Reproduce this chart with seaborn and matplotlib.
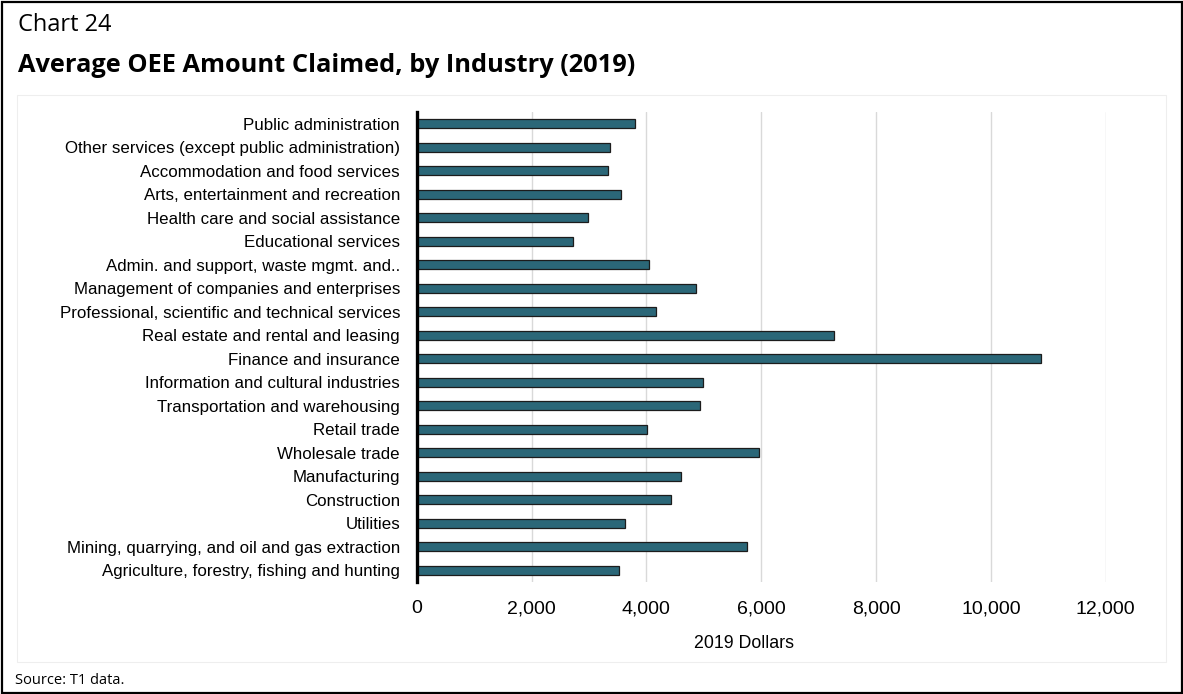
import matplotlib
matplotlib.use("Agg")
import matplotlib.pyplot as plt
from matplotlib.patches import Rectangle
from matplotlib.ticker import FuncFormatter
import seaborn as sns
import pandas as pd

industries = [
    "Public administration",
    "Other services (except public administration)",
    "Accommodation and food services",
    "Arts, entertainment and recreation",
    "Health care and social assistance",
    "Educational services",
    "Admin. and support, waste mgmt. and..",
    "Management of companies and enterprises",
    "Professional, scientific and technical services",
    "Real estate and rental and leasing",
    "Finance and insurance",
    "Information and cultural industries",
    "Transportation and warehousing",
    "Retail trade",
    "Wholesale trade",
    "Manufacturing",
    "Construction",
    "Utilities",
    "Mining, quarrying, and oil and gas extraction",
    "Agriculture, forestry, fishing and hunting",
]
avg_claimed = [
    3810, 3360, 3340, 3560, 2990, 2730, 4040, 4860, 4160, 7270,
    10870, 4990, 4930, 4010, 5970, 4610, 4430, 3630, 5760, 3520,
]
x_ticks = [0, 2000, 4000, 6000, 8000, 10000, 12000]

df = pd.DataFrame({"industry": industries, "amount": avg_claimed})

sns.set_theme(style="white")
plt.rcParams["font.family"] = ["Liberation Sans", "DejaVu Sans"]

W, H = 1183, 694
fig = plt.figure(figsize=(W / 100, H / 100), dpi=100)
ax = fig.add_axes([416.7 / W, 1 - 582 / H, (1105.7 - 416.7) / W, (582 - 112) / H])

sns.barplot(data=df, y="industry", x="amount", orient="h", ax=ax,
            color="#2B6778", width=0.38, edgecolor="#1c1c1c", linewidth=0.9,
            saturation=1, zorder=3)

ax.set_xlim(0, 12000)
ax.set_xticks(x_ticks)
ax.xaxis.set_major_formatter(FuncFormatter(lambda v, p: f"{int(v):,}"))
ax.grid(axis="x", color="#d9d9d9", linewidth=1.0, zorder=0)
ax.grid(axis="y", visible=False)
for side in ("top", "right", "bottom"):
    ax.spines[side].set_visible(False)
ax.spines["left"].set_color("black")
ax.spines["left"].set_linewidth(2.4)
ax.spines["left"].set_zorder(4)
ax.tick_params(axis="both", length=0)
ax.tick_params(axis="y", labelsize=12.2, pad=12, colors="black")
ax.tick_params(axis="x", labelsize=14, pad=13, colors="black")
ax.set_ylabel("")
ax.set_xlabel("2019 Dollars", fontsize=12.8, color="black")
ax.xaxis.set_label_coords((744 - 416.7) / (1105.7 - 416.7), -(644 - 582) / (582 - 112))
ax.xaxis.label.set_va("center")

# outer frame and faint inner panel
fig.patches.append(Rectangle((1.5 / W, 1.5 / H), (W - 3) / W, (H - 3) / H,
                             transform=fig.transFigure, fill=False,
                             edgecolor="black", linewidth=1.6, zorder=10))
fig.patches.append(Rectangle((17 / W, 1 - 662 / H), (1166 - 17) / W, (662 - 95) / H,
                             transform=fig.transFigure, fill=False,
                             edgecolor="#eeeeee", linewidth=0.8, zorder=0))

title_font = ["Open Sans", "DejaVu Sans"]
fig.text(18 / W, 1 - 25 / H, "Chart 24", fontsize=17, family=title_font,
         va="center", ha="left", color="black")
fig.text(18 / W, 1 - 66 / H, "Average OEE Amount Claimed, by Industry (2019)",
         fontsize=18.3, fontweight="bold", family=title_font,
         va="center", ha="left", color="black")
fig.text(15 / W, 1 - 680 / H, "Source: T1 data.", fontsize=10.5, family=title_font,
         va="center", ha="left", color="black")

fig.savefig("out.png", dpi=100)
